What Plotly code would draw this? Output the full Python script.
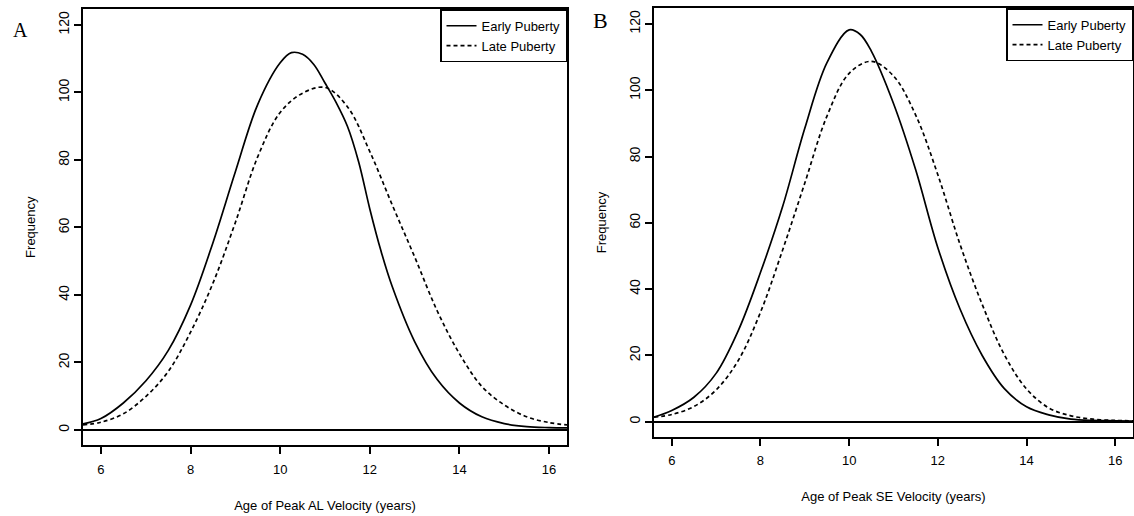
import plotly.graph_objects as go

# ---- data ----
a_early_x = [5.6, 6.0, 6.5, 7.0, 7.5, 8.0, 8.5, 9.0, 9.5, 10.0, 10.25, 10.5, 10.75, 11.0,
             11.25, 11.5, 11.75, 12.0, 12.25, 12.5, 13.0, 13.5, 14.0, 14.5, 15.0, 15.5, 16.0, 16.4]
a_early_y = [1.8, 3.4, 8.0, 14.5, 23.5, 37.0, 55.5, 76.5, 96.5, 108.8, 111.8, 111.3, 108.3, 102.8,
             97.0, 90.0, 79.5, 65.5, 53.0, 42.5, 26.2, 15.0, 8.0, 3.9, 1.9, 1.0, 0.7, 0.6]
a_late_x = [5.6, 6.0, 6.5, 7.0, 7.5, 8.0, 8.5, 9.0, 9.5, 10.0, 10.5, 11.0, 11.5,
            12.0, 12.5, 13.0, 13.5, 14.0, 14.5, 15.0, 15.5, 16.0, 16.4]
a_late_y = [1.5, 2.3, 4.8, 9.9, 17.3, 29.0, 43.5, 61.5, 81.0, 94.1, 99.8, 101.5, 95.8,
            82.5, 66.7, 51.3, 35.4, 22.6, 12.9, 7.4, 3.9, 2.2, 1.5]

b_early_x = [5.6, 6.0, 6.5, 7.0, 7.5, 8.0, 8.5, 9.0, 9.5, 10.0, 10.25, 10.5, 11.0,
             11.5, 12.0, 12.5, 13.0, 13.5, 14.0, 14.5, 15.0, 15.5, 16.0, 16.4]
b_early_y = [1.4, 3.4, 7.4, 14.6, 27.5, 45.0, 64.9, 88.5, 108.3, 118.2, 116.8, 111.8, 96.0,
             76.0, 52.5, 34.0, 20.0, 10.0, 4.5, 2.1, 0.8, 0.4, 0.3, 0.2]
b_late_x = [5.6, 6.0, 6.5, 7.0, 7.5, 8.0, 8.5, 9.0, 9.5, 10.0, 10.5, 11.0, 11.5,
            12.0, 12.5, 13.0, 13.5, 14.0, 14.5, 15.0, 15.5, 16.0, 16.4]
b_late_y = [1.4, 2.2, 4.6, 9.6, 18.5, 33.0, 51.8, 72.0, 92.2, 105.1, 108.7, 104.3, 92.5,
            74.5, 53.5, 35.4, 20.2, 9.9, 4.2, 1.8, 0.8, 0.4, 0.3]

series_names = ["Early Puberty", "Late Puberty"]
x_titles = ["Age of Peak AL Velocity (years)", "Age of Peak SE Velocity (years)"]
panel_labels = ["A", "B"]
x_ticks = [6, 8, 10, 12, 14, 16]
y_ticks = [0, 20, 40, 60, 80, 100, 120]

W, H = 1134, 516
FONT = "Liberation Sans, Arial, sans-serif"
SERIF = "Liberation Serif, Times New Roman, serif"

fig = go.Figure()

def line(dash):
    return dict(color="black", width=1.7, dash=dash, shape="spline", smoothing=1.0)

fig.add_trace(go.Scatter(x=a_early_x, y=a_early_y, mode="lines", name=series_names[0],
                         line=line("solid"), xaxis="x", yaxis="y", legend="legend"))
fig.add_trace(go.Scatter(x=a_late_x, y=a_late_y, mode="lines", name=series_names[1],
                         line=line("4px,3px"), xaxis="x", yaxis="y", legend="legend"))
fig.add_trace(go.Scatter(x=b_early_x, y=b_early_y, mode="lines", name=series_names[0],
                         line=line("solid"), xaxis="x2", yaxis="y2", legend="legend2"))
fig.add_trace(go.Scatter(x=b_late_x, y=b_late_y, mode="lines", name=series_names[1],
                         line=line("4px,3px"), xaxis="x2", yaxis="y2", legend="legend2"))

def xax(domain, title, anchor):
    return dict(domain=domain, range=[5.6, 16.4], tickvals=x_ticks, ticks="outside", ticklen=7,
                tickwidth=1.5, tickcolor="black", showline=True, mirror=True, linecolor="black",
                linewidth=2, showgrid=False, zeroline=False, anchor=anchor,
                tickfont=dict(family=FONT, size=13, color="black"), ticklabelstandoff=4,
                title=dict(text=title, font=dict(family=FONT, size=13, color="black"), standoff=25))

def yax(domain, rng, anchor):
    return dict(domain=domain, range=rng, tickvals=y_ticks, ticks="outside", ticklen=7,
                tickwidth=1.5, tickcolor="black", showline=True, mirror=True, linecolor="black",
                linewidth=2, showgrid=False, zeroline=True, zerolinecolor="black", zerolinewidth=1.5,
                tickangle=-90, anchor=anchor,
                tickfont=dict(family=FONT, size=14, color="black"), ticklabelstandoff=-1,
                title=dict(text="Frequency", font=dict(family=FONT, size=13, color="black"), standoff=18))

xa_dom = [83 / W, 567 / W]
xb_dom = [654 / W, 1133 / W]
ya_dom = [(H - 445) / H, (H - 9.3) / H]
yb_dom = [(H - 436.7) / H, (H - 8.3) / H]

legend_common = dict(bgcolor="white", bordercolor="black", borderwidth=1.5,
                     font=dict(family=FONT, size=13, color="black"),
                     xanchor="right", yanchor="top", itemwidth=30, tracegroupgap=0)

fig.update_layout(
    width=W, height=H, margin=dict(l=0, r=0, t=0, b=0),
    paper_bgcolor="white", plot_bgcolor="white",
    xaxis=xax(xa_dom, x_titles[0], "y"),
    yaxis=yax(ya_dom, [-4.45, 124.65], "x"),
    xaxis2=xax(xb_dom, x_titles[1], "y2"),
    yaxis2=yax(yb_dom, [-4.5, 124.7], "x2"),
    legend=dict(x=xa_dom[1], y=ya_dom[1], **legend_common),
    legend2=dict(x=xb_dom[1], y=yb_dom[1], **legend_common),
    annotations=[
        dict(text=panel_labels[0], x=20 / W, y=1 - 30 / H, xref="paper", yref="paper",
             xanchor="center", yanchor="middle", showarrow=False,
             font=dict(family=SERIF, size=20, color="black")),
        dict(text=panel_labels[1], x=600 / W, y=1 - 21 / H, xref="paper", yref="paper",
             xanchor="center", yanchor="middle", showarrow=False,
             font=dict(family=SERIF, size=22, color="black")),
    ],
)

fig.write_html("out.html", config={"displayModeBar": False},
               post_script="document.body.style.margin='0';document.body.style.overflow='hidden';")
